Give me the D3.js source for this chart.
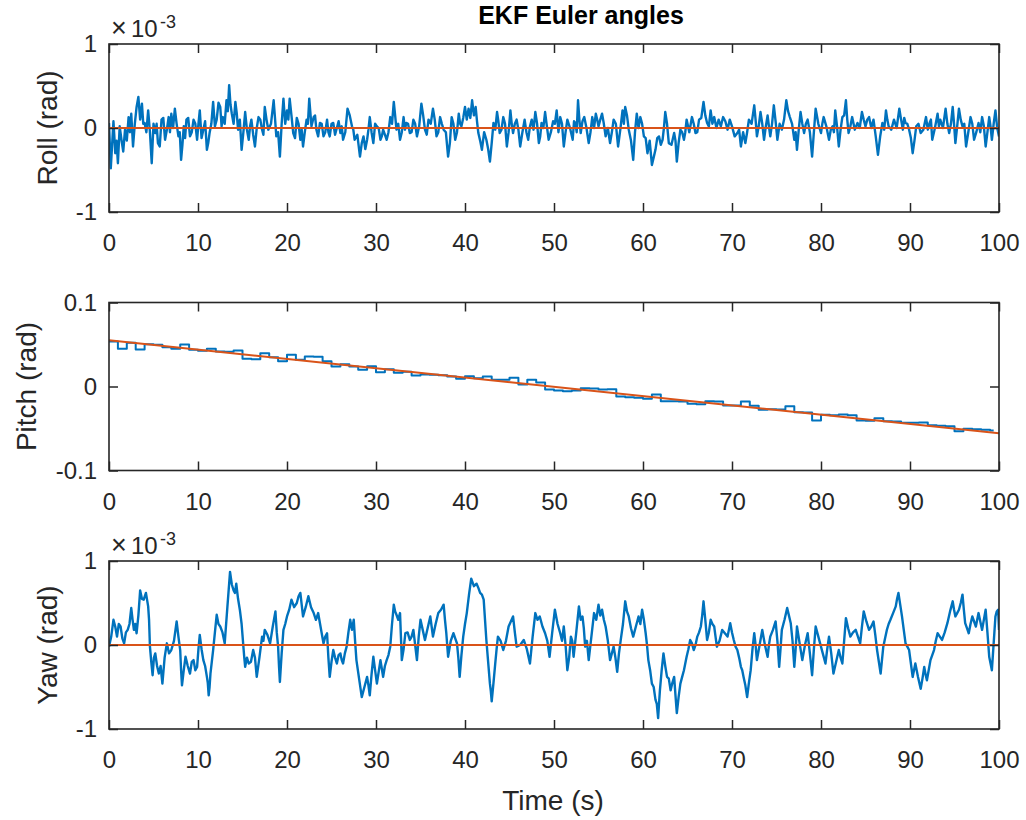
<!DOCTYPE html>
<html>
<head>
<meta charset="utf-8">
<script src="https://cdn.jsdelivr.net/npm/d3@7"></script>
<style>
  html, body { margin: 0; padding: 0; background: #fff; }
  svg { display: block; font-family: "Liberation Sans", Arial, Helvetica, sans-serif; }
</style>
</head>
<body>
<script>
// ---------------- DATA ----------------
const timeTicks = [0, 10, 20, 30, 40, 50, 60, 70, 80, 90, 100];
const rollTicks = [-1, 0, 1];          // x 1e-3 rad
const pitchTicks = [-0.1, 0, 0.1];     // rad
const yawTicks = [-1, 0, 1];           // x 1e-3 rad

// Roll estimate, main excursions [time (s), value (x1e-3 rad)]
const rollEst = [[0,0.06],[0.2,-0.48],[0.5,0.08],[0.7,-0.30],[1.0,-0.42],[1.4,-0.14],[1.8,-0.02],[2.2,0.13],[2.5,0.17],[2.7,-0.22],[3.1,0.25],[3.3,0.37],[3.7,0.29],[4.0,0.06],[4.4,0.21],[4.8,-0.42],[5.2,-0.06],[5.5,-0.18],[5.9,0.10],[6.3,-0.14],[6.7,0.13],[7.0,0.17],[7.4,0.23],[7.8,-0.10],[8.1,-0.38],[8.4,0.02],[8.7,0.10],[9.1,-0.10],[9.5,0.10],[9.9,-0.14],[10.2,0.21],[10.6,-0.02],[11.0,-0.26],[11.3,-0.06],[11.7,0.31],[12.1,0.10],[12.5,0.25],[12.8,0.13],[13.2,0.33],[13.5,0.51],[13.8,0.17],[14.2,0.31],[14.5,-0.02],[14.9,-0.26],[15.3,0.19],[15.7,-0.14],[16.0,0.10],[16.4,-0.22],[16.8,0.13],[17.2,-0.02],[17.5,0.25],[17.9,-0.02],[18.5,0.33],[18.8,-0.10],[19.2,-0.34],[19.6,0.35],[20.0,0.21],[20.3,0.35],[20.7,-0.06],[21.1,0.12],[21.5,-0.14],[21.8,-0.22],[22.2,0.10],[22.5,0.35],[23.0,0.13],[23.3,-0.02],[23.7,0.06],[24.1,-0.10],[24.5,0.10],[24.8,-0.10],[25.2,0.06],[25.6,0.00],[26.0,-0.06],[26.3,-0.14],[26.8,0.23],[27.3,0.02],[27.6,-0.14],[28.2,-0.34],[28.6,-0.10],[29.0,-0.14],[29.3,0.13],[29.7,-0.18],[30.1,0.02],[30.5,-0.14],[30.8,-0.02],[31.2,-0.14],[31.6,0.13],[32.0,0.31],[32.3,-0.02],[32.7,-0.14],[33.1,0.13],[33.4,0.06],[33.8,-0.06],[34.2,0.10],[34.6,-0.10],[35.1,0.29],[35.5,-0.02],[35.9,0.10],[36.4,0.23],[36.8,-0.10],[37.2,0.13],[37.6,-0.02],[38.1,-0.34],[38.5,0.13],[38.9,-0.14],[39.3,0.17],[39.6,0.02],[40.0,0.25],[40.4,0.23],[40.8,0.33],[41.2,0.25],[41.5,-0.06],[41.9,-0.26],[42.4,-0.14],[42.8,-0.40],[43.2,0.06],[43.6,0.19],[43.9,-0.06],[44.3,0.13],[44.7,-0.22],[45.1,0.21],[45.4,-0.06],[45.8,0.10],[46.2,-0.22],[46.7,0.10],[47.1,-0.14],[47.5,0.10],[47.9,0.19],[48.3,-0.18],[48.6,0.06],[49.0,0.19],[49.4,-0.14],[49.9,0.08],[50.3,0.21],[50.7,0.13],[51.1,-0.22],[51.5,0.10],[52.1,-0.14],[52.4,0.06],[52.7,0.33],[53.0,-0.06],[53.4,0.13],[53.9,-0.18],[54.3,0.13],[54.7,0.17],[55.0,0.02],[55.4,0.17],[55.8,-0.10],[56.3,-0.18],[56.7,0.10],[57.2,-0.22],[57.7,0.21],[58.0,0.25],[58.4,-0.02],[58.9,-0.38],[59.3,0.17],[59.7,0.13],[60.1,-0.10],[60.5,-0.30],[61.0,-0.44],[61.4,-0.26],[61.8,-0.10],[62.2,-0.14],[62.5,0.19],[62.9,-0.18],[63.5,-0.06],[63.8,-0.40],[64.2,-0.02],[64.6,-0.14],[64.9,0.10],[65.5,0.13],[65.9,-0.06],[66.3,0.10],[66.8,0.31],[67.2,0.06],[67.6,0.21],[68.0,0.13],[68.5,0.10],[69.0,0.13],[69.5,-0.02],[70.0,0.02],[70.6,-0.06],[71.0,-0.22],[71.5,-0.18],[71.9,0.10],[72.5,0.27],[72.8,-0.10],[73.2,0.19],[73.6,-0.14],[74.0,0.15],[74.3,-0.10],[74.7,0.27],[75.1,-0.14],[75.6,-0.02],[76.1,0.33],[76.5,0.13],[77.0,-0.14],[77.3,-0.26],[77.7,0.19],[78.1,-0.06],[78.5,0.10],[79.0,-0.34],[79.4,0.23],[80.0,-0.06],[80.3,0.13],[80.9,-0.14],[81.3,0.02],[81.6,0.21],[82.0,-0.22],[82.4,0.13],[82.8,0.33],[83.1,-0.06],[83.5,0.13],[84.1,0.06],[84.6,0.19],[85.0,0.02],[85.4,0.13],[85.9,0.10],[86.4,-0.32],[86.9,0.06],[87.3,0.21],[87.6,0.02],[88.2,0.10],[88.8,0.23],[89.2,-0.02],[89.5,0.06],[89.9,-0.02],[90.3,-0.30],[90.7,0.02],[91.2,-0.06],[91.8,0.13],[92.2,0.06],[92.5,-0.14],[93.1,0.17],[93.4,0.10],[94.0,0.23],[94.4,-0.06],[94.8,0.25],[95.1,-0.18],[95.5,0.23],[95.9,0.02],[96.3,-0.22],[96.8,0.13],[97.2,-0.14],[97.7,0.06],[98.1,0.13],[98.5,-0.22],[98.9,0.13],[99.2,-0.14],[99.6,0.21],[100,-0.10]];
// Roll estimate, smaller in-between wiggles
const rollDetail = [[0.35,-0.20],[0.6,-0.10],[0.85,-0.15],[1.2,0.02],[1.6,-0.28],[2.0,-0.15],[2.35,-0.05],[2.9,0.05],[3.5,0.10],[3.85,0.05],[4.2,-0.05],[4.6,-0.05],[5.0,0.05],[5.35,0.05],[5.7,-0.22],[6.1,0.12],[6.5,-0.02],[6.85,-0.05],[7.2,0.00],[7.6,0.05],[7.95,-0.05],[8.25,-0.20],[8.55,-0.12],[8.9,0.12],[9.3,-0.05],[9.7,0.05],[10.05,0.05],[10.4,-0.12],[10.8,0.08],[11.15,-0.18],[11.5,0.05],[11.9,0.02],[12.3,0.30],[12.65,0.02],[13.0,0.05],[13.35,0.20],[13.65,0.28],[14.0,0.05],[14.35,0.18],[14.7,0.10],[15.1,-0.05],[15.5,-0.02],[15.85,0.02],[16.2,-0.08],[16.6,0.00],[17.0,0.10],[17.35,-0.08],[17.7,0.10],[18.2,0.05],[18.65,0.12],[19.0,-0.05],[19.4,0.05],[19.8,0.05],[20.15,0.10],[20.5,0.15],[20.9,-0.12],[21.3,0.05],[21.65,-0.02],[22.0,-0.05],[22.35,0.05],[22.75,0.02],[23.15,0.15],[23.5,-0.10],[23.9,0.05],[24.3,-0.05],[24.65,-0.05],[25.0,0.05],[25.4,-0.08],[25.8,0.08],[26.15,0.02],[26.55,-0.05],[27.05,0.15],[27.45,-0.02],[27.9,-0.08],[28.4,-0.18],[28.8,-0.25],[29.15,-0.02],[29.5,-0.05],[29.9,0.05],[30.3,0.00],[30.65,-0.10],[31.0,-0.08],[31.4,-0.05],[31.8,0.05],[32.15,0.15],[32.5,0.05],[32.9,-0.05],[33.25,-0.02],[33.6,0.05],[34.0,-0.05],[34.4,0.05],[34.85,0.02],[35.3,0.15],[35.7,-0.08],[36.15,0.05],[36.6,0.10],[37.0,-0.05],[37.4,0.05],[37.85,-0.05],[38.3,-0.18],[38.7,0.05],[39.1,-0.05],[39.45,0.05],[39.8,0.12],[40.2,0.10],[40.6,0.12],[41.0,0.15],[41.35,0.08],[41.7,-0.15],[42.15,-0.05],[42.6,-0.25],[43.0,-0.18],[43.4,-0.02],[43.75,0.08],[44.1,-0.02],[44.5,0.05],[44.9,-0.05],[45.25,0.05],[45.6,0.05],[46.0,-0.02],[46.45,-0.05],[46.9,-0.05],[47.3,0.02],[47.7,-0.02],[48.1,0.05],[48.45,-0.10],[48.8,0.00],[49.2,0.02],[49.65,-0.05],[50.1,0.05],[50.5,-0.05],[50.9,0.05],[51.3,-0.05],[51.8,0.00],[52.25,0.08],[52.55,-0.05],[52.85,0.10],[53.2,0.08],[53.65,0.00],[54.1,-0.05],[54.5,0.00],[54.85,0.10],[55.2,0.10],[55.6,0.05],[56.05,0.00],[56.5,-0.05],[56.95,0.05],[57.45,-0.02],[57.85,0.05],[58.2,0.15],[58.65,-0.15],[59.1,-0.05],[59.5,0.00],[59.9,0.05],[60.3,-0.12],[60.75,-0.15],[61.2,-0.35],[61.6,-0.12],[62.0,-0.20],[62.35,0.00],[62.7,0.05],[63.2,-0.20],[63.65,-0.15],[64.0,-0.18],[64.4,-0.05],[64.75,-0.05],[65.2,-0.05],[65.7,0.05],[66.1,-0.05],[66.55,0.12],[67.0,0.15],[67.4,0.02],[67.8,0.05],[68.25,0.00],[68.75,0.02],[69.25,0.08],[69.75,0.10],[70.3,-0.10],[70.8,-0.02],[71.25,-0.05],[71.7,-0.05],[72.2,0.05],[72.65,0.10],[73.0,0.02],[73.4,0.05],[73.8,0.02],[74.15,0.02],[74.5,0.05],[74.9,0.08],[75.35,0.05],[75.85,0.10],[76.3,0.20],[76.75,0.05],[77.15,-0.05],[77.5,-0.02],[77.9,0.05],[78.3,0.05],[78.75,-0.05],[79.2,-0.05],[79.7,0.05],[80.15,0.05],[80.6,0.02],[81.1,-0.02],[81.45,-0.05],[81.8,0.02],[82.2,-0.02],[82.6,0.15],[82.95,0.10],[83.3,0.02],[83.8,-0.02],[84.35,0.00],[84.8,0.10],[85.2,0.10],[85.65,0.00],[86.15,-0.10],[86.65,-0.10],[87.1,-0.02],[87.45,0.10],[87.9,-0.02],[88.5,0.00],[89.0,0.10],[89.35,0.12],[89.7,0.05],[90.1,-0.12],[90.5,-0.15],[90.95,0.05],[91.5,-0.02],[92.0,-0.02],[92.35,0.10],[92.8,0.00],[93.25,0.02],[93.7,0.00],[94.2,0.05],[94.6,0.05],[94.95,0.05],[95.3,0.02],[95.7,0.10],[96.1,0.05],[96.55,-0.05],[97.0,0.05],[97.45,-0.05],[97.9,-0.05],[98.3,0.02],[98.7,-0.05],[99.05,0.02],[99.4,0.05],[99.8,0.00]];
const rollRef = [[0,0],[100,0]];

// Pitch estimate (rad), held over each interval starting at pitchTime[i]
const pitchTime = [0,1,2,3,4,5,6,7,8,9,10,11,12,13,14,15,16,17,18,19,20,21,22,23,24,25,26,27,28,29,30,31,32,33,34,35,36,37,38,39,40,41,42,43,44,45,46,47,48,49,50,51,52,53,54,55,56,57,58,59,60,61,62,63,64,65,66,67,68,69,70,71,72,73,74,75,76,77,78,79,80,81,82,83,84,85,86,87,88,89,90,91,92,93,94,95,96,97,98,99,99.4];
const pitchEst = [0.0536,0.0448,0.0520,0.0440,0.0504,0.0496,0.0468,0.0448,0.0500,0.0437,0.0425,0.0448,0.0417,0.0413,0.0429,0.0329,0.0325,0.0397,0.0349,0.0302,0.0377,0.0317,0.0357,0.0353,0.0302,0.0238,0.0266,0.0238,0.0198,0.0242,0.0171,0.0206,0.0163,0.0175,0.0131,0.0143,0.0139,0.0135,0.0119,0.0091,0.0123,0.0099,0.0119,0.0079,0.0079,0.0103,0.0024,0.0079,0.0048,-0.0036,-0.0048,-0.0056,-0.0048,-0.0020,-0.0024,-0.0036,-0.0032,-0.0119,-0.0127,-0.0135,-0.0147,-0.0095,-0.0175,-0.0175,-0.0179,-0.0206,-0.0210,-0.0175,-0.0179,-0.0226,-0.0226,-0.0179,-0.0230,-0.0278,-0.0270,-0.0274,-0.0234,-0.0306,-0.0310,-0.0405,-0.0337,-0.0341,-0.0333,-0.0341,-0.0405,-0.0409,-0.0377,-0.0413,-0.0417,-0.0433,-0.0433,-0.0429,-0.0460,-0.0468,-0.0472,-0.0532,-0.0504,-0.0508,-0.0516,-0.0524,-0.0524];
const pitchRef = [[0,0.0550],[100,-0.0556]];

// Yaw estimate, main excursions [time (s), value (x1e-3 rad)]
const yawEst = [[0,-0.02],[0.5,0.30],[0.9,0.10],[1.3,0.22],[1.7,0.02],[2.1,0.18],[2.5,0.44],[2.8,0.18],[3.1,0.14],[3.5,0.65],[3.9,0.54],[4.4,0.46],[4.6,-0.02],[4.9,-0.36],[5.2,-0.10],[5.6,-0.34],[6.0,-0.46],[6.5,0.02],[7.0,-0.06],[7.6,0.28],[8.0,-0.06],[8.2,-0.48],[8.6,-0.14],[9.1,-0.34],[9.5,-0.18],[9.9,-0.26],[10.2,0.12],[10.6,-0.18],[11.0,-0.38],[11.2,-0.60],[11.4,-0.34],[11.7,-0.06],[12.1,0.36],[12.5,0.22],[13.0,0.02],[13.6,0.87],[14.0,0.65],[14.3,0.73],[14.7,0.42],[15.1,-0.02],[15.3,-0.26],[15.7,-0.22],[16.2,-0.06],[16.6,-0.38],[17.2,0.10],[17.5,0.18],[18.1,0.02],[18.7,0.40],[19.0,-0.02],[19.2,-0.44],[19.6,0.18],[20.0,0.34],[20.5,0.54],[21.1,0.50],[21.5,0.62],[21.8,0.34],[22.4,0.58],[23.0,0.38],[23.5,0.38],[24.1,0.02],[24.5,0.14],[24.8,-0.38],[25.2,-0.06],[25.6,-0.22],[26.0,-0.10],[26.3,-0.22],[26.7,-0.02],[27.1,0.30],[27.5,0.30],[27.8,-0.18],[28.4,-0.62],[29.0,-0.38],[29.3,-0.60],[29.7,-0.14],[30.1,-0.46],[30.5,-0.18],[30.8,-0.38],[31.2,-0.18],[31.6,-0.02],[32.0,0.48],[32.3,0.36],[32.7,0.38],[32.9,-0.18],[33.3,0.14],[33.8,0.06],[34.2,0.18],[34.6,-0.18],[35.0,0.30],[35.5,0.06],[36.1,0.34],[36.4,0.10],[37.0,0.38],[37.6,0.48],[37.9,0.14],[38.1,-0.14],[38.7,0.14],[39.1,0.02],[39.4,-0.38],[39.8,0.10],[40.2,0.38],[40.7,0.79],[41.3,0.73],[41.7,0.62],[42.1,0.54],[42.4,0.06],[42.8,-0.46],[43.0,-0.67],[43.4,-0.22],[43.7,0.10],[44.3,-0.06],[44.9,0.22],[45.4,0.34],[45.8,-0.02],[46.6,0.06],[47.3,-0.22],[47.9,0.38],[48.4,0.34],[49.0,0.14],[49.5,-0.14],[50.1,0.42],[50.7,0.14],[51.1,0.22],[51.5,-0.30],[51.9,0.10],[52.2,-0.14],[52.8,0.46],[53.2,0.34],[53.5,-0.02],[53.9,-0.18],[54.5,0.38],[55.0,0.48],[55.4,0.42],[55.8,0.22],[56.3,-0.18],[56.7,-0.02],[57.1,-0.32],[57.5,0.06],[58.0,0.52],[58.4,0.34],[58.9,0.10],[59.5,0.34],[59.9,0.42],[60.3,0.14],[60.6,-0.18],[61.0,-0.46],[61.4,-0.65],[61.7,-0.87],[61.9,-0.54],[62.3,-0.10],[62.7,-0.38],[63.1,-0.54],[63.5,-0.38],[63.8,-0.81],[64.2,-0.46],[64.6,-0.30],[64.9,-0.14],[65.3,0.06],[65.7,-0.06],[66.1,0.10],[66.5,0.22],[66.8,0.52],[67.2,0.06],[67.6,0.30],[68.0,0.22],[68.3,-0.02],[68.9,0.18],[69.5,0.10],[69.8,0.26],[70.2,0.06],[70.6,-0.06],[71.0,-0.26],[71.3,-0.38],[71.7,-0.62],[72.1,-0.30],[72.5,0.14],[72.8,-0.18],[73.4,0.18],[74.0,-0.14],[74.3,0.10],[74.9,0.28],[75.3,-0.26],[75.6,0.18],[76.2,0.44],[76.6,0.26],[77.0,-0.26],[77.3,0.22],[77.9,-0.18],[78.5,0.14],[79.0,-0.36],[79.4,0.22],[79.9,0.02],[80.5,-0.22],[80.9,0.10],[81.4,-0.34],[82.0,-0.06],[82.4,-0.22],[82.8,0.32],[83.3,0.10],[83.9,0.18],[84.4,0.02],[84.8,0.40],[85.4,0.18],[85.9,0.28],[86.3,-0.06],[86.7,-0.34],[87.0,-0.02],[87.4,0.18],[87.8,0.30],[88.4,0.46],[88.7,0.62],[89.1,0.34],[89.5,0.02],[89.9,-0.06],[90.3,-0.38],[90.6,-0.22],[91.2,-0.52],[91.6,-0.26],[91.9,-0.42],[92.3,-0.18],[92.7,-0.06],[93.1,0.14],[93.6,0.06],[94.2,0.26],[94.8,0.52],[95.1,0.34],[95.5,0.42],[95.9,0.60],[96.2,0.26],[96.6,0.14],[97.0,0.34],[97.4,0.22],[97.7,0.38],[98.1,0.18],[98.5,0.42],[98.9,-0.14],[99.2,-0.30],[99.6,0.34],[99.9,0.42],[100,0.18]];
// Yaw estimate, in-between wiggles
const yawDetail = [[0.25,0.10],[0.7,0.22],[1.1,0.25],[1.5,0.08],[1.9,0.15],[2.3,0.25],[2.65,0.30],[2.95,0.25],[3.3,0.35],[3.7,0.55],[4.15,0.62],[4.5,0.30],[4.75,-0.20],[5.05,-0.15],[5.4,-0.25],[5.8,-0.25],[6.25,-0.15],[6.75,-0.10],[7.3,0.05],[7.8,0.10],[8.1,-0.30],[8.4,-0.30],[8.85,-0.25],[9.3,-0.20],[9.7,-0.30],[10.05,-0.05],[10.4,-0.05],[10.8,-0.25],[11.1,-0.45],[11.3,-0.50],[11.55,-0.20],[11.9,0.15],[12.3,0.25],[12.75,0.15],[13.3,0.45],[13.8,0.72],[14.15,0.62],[14.5,0.55],[14.9,0.25],[15.2,-0.15],[15.5,-0.15],[15.95,-0.20],[16.4,-0.15],[16.9,-0.15],[17.35,0.05],[17.8,0.12],[18.4,0.22],[18.85,0.15],[19.1,-0.25],[19.4,-0.10],[19.8,0.25],[20.25,0.42],[20.8,0.45],[21.3,0.58],[21.65,0.48],[22.1,0.45],[22.7,0.45],[23.25,0.30],[23.8,0.20],[24.3,0.10],[24.65,-0.15],[25.0,-0.20],[25.4,-0.15],[25.8,-0.12],[26.15,-0.18],[26.5,-0.10],[26.9,0.15],[27.3,0.18],[27.65,0.05],[28.1,-0.40],[28.7,-0.50],[29.15,-0.48],[29.5,-0.35],[29.9,-0.30],[30.3,-0.32],[30.65,-0.28],[31.0,-0.25],[31.4,-0.12],[31.8,0.25],[32.15,0.40],[32.5,0.30],[32.8,0.10],[33.1,-0.05],[33.55,0.15],[34.0,0.10],[34.4,0.00],[34.8,0.10],[35.25,0.18],[35.8,0.20],[36.25,0.22],[36.7,0.25],[37.3,0.42],[37.75,0.30],[38.0,0.00],[38.4,0.05],[38.9,0.08],[39.25,-0.15],[39.6,-0.12],[40.0,0.25],[40.45,0.60],[41.0,0.70],[41.5,0.68],[41.9,0.60],[42.25,0.30],[42.6,-0.20],[42.9,-0.55],[43.2,-0.45],[43.55,-0.05],[44.0,0.05],[44.6,0.05],[45.15,0.28],[45.6,0.15],[46.2,0.00],[46.95,-0.05],[47.6,0.10],[48.15,0.30],[48.7,0.22],[49.25,0.05],[49.8,0.15],[50.4,0.25],[50.9,0.05],[51.3,0.00],[51.7,-0.15],[52.05,0.05],[52.5,0.15],[53.0,0.30],[53.35,0.20],[53.7,0.05],[54.2,0.10],[54.75,0.30],[55.2,0.35],[55.6,0.30],[56.05,0.05],[56.5,-0.10],[56.9,-0.15],[57.3,-0.10],[57.75,0.25],[58.2,0.40],[58.65,0.20],[59.2,0.22],[59.7,0.25],[60.1,0.30],[60.45,0.00],[60.8,-0.30],[61.2,-0.50],[61.55,-0.70],[61.8,-0.70],[62.1,-0.30],[62.5,-0.25],[62.9,-0.40],[63.3,-0.45],[63.65,-0.60],[64.0,-0.62],[64.4,-0.38],[64.75,-0.22],[65.1,-0.05],[65.5,0.02],[65.9,0.00],[66.3,0.15],[66.65,0.35],[67.0,0.30],[67.4,0.15],[67.8,0.25],[68.15,0.10],[68.6,0.05],[69.2,0.14],[69.65,0.18],[70.0,0.15],[70.4,-0.02],[70.8,-0.15],[71.15,-0.30],[71.5,-0.48],[71.9,-0.45],[72.3,-0.05],[72.65,0.00],[73.1,0.00],[73.7,0.00],[74.15,0.00],[74.6,0.18],[75.1,0.05],[75.45,-0.05],[75.9,0.30],[76.4,0.35],[76.8,0.05],[77.15,-0.05],[77.6,0.02],[78.2,0.00],[78.75,-0.10],[79.2,-0.05],[79.65,0.12],[80.2,-0.10],[80.7,-0.05],[81.15,-0.10],[81.7,-0.20],[82.2,-0.15],[82.6,0.05],[83.05,0.20],[83.6,0.15],[84.15,0.10],[84.6,0.22],[85.1,0.28],[85.65,0.22],[86.1,0.12],[86.5,-0.20],[86.85,-0.18],[87.2,0.08],[87.6,0.25],[88.1,0.38],[88.55,0.55],[88.9,0.48],[89.3,0.18],[89.7,-0.02],[90.1,-0.22],[90.45,-0.30],[90.9,-0.38],[91.4,-0.40],[91.75,-0.35],[92.1,-0.30],[92.5,-0.12],[92.9,0.05],[93.35,0.10],[93.9,0.15],[94.5,0.40],[94.95,0.42],[95.3,0.38],[95.7,0.50],[96.05,0.42],[96.4,0.20],[96.8,0.25],[97.2,0.28],[97.55,0.30],[97.9,0.28],[98.3,0.30],[98.7,0.15],[99.05,-0.22],[99.4,0.02],[99.75,0.40]];
const yawRef = [[0,0],[100,0]];

const titleText = "EKF Euler angles";
const xLabelText = "Time (s)";

// ---------------- DRAWING ----------------
const W = 1026, H = 820;
const AX = "#262626", BLUE = "#0072BD", RED = "#D95319";
const svg = d3.select("body").append("svg").attr("width", W).attr("height", H);

const x = d3.scaleLinear().domain([0, 100]).range([109, 999]);

const merge = (a, b) => a.concat(b).map(d => ({t: d[0], v: d[1]})).sort((p, q) => p.t - q.t);
const fmtTick = d => String(d);   // plain hyphen-minus as in the original

const panels = [
  { top: 44,    bottom: 212,   domain: [-1, 1],     ticks: rollTicks,  exp: true, lw: 2.4,
    label: "Roll (rad)",  labelX: 47, est: merge(rollEst, rollDetail), ref: rollRef, step: false },
  { top: 302.5, bottom: 470.5, domain: [-0.1, 0.1], ticks: pitchTicks, exp: false, lw: 2,
    label: "Pitch (rad)", labelX: 26, est: pitchTime.map((t, i) => ({t: t, v: pitchEst[i]})), ref: pitchRef, step: true },
  { top: 561,   bottom: 729,   domain: [-1, 1],     ticks: yawTicks,   exp: true, lw: 2.4,
    label: "Yaw (rad)",   labelX: 47, est: merge(yawEst, yawDetail), ref: yawRef, step: false }
];

const TICK_FONT = 24;

panels.forEach((p, i) => {
  const y = d3.scaleLinear().domain(p.domain).range([p.bottom, p.top]);
  const g = svg.append("g");

  const clipId = "clip" + i;
  svg.append("clipPath").attr("id", clipId).append("rect")
    .attr("x", x.range()[0]).attr("y", p.top)
    .attr("width", x.range()[1] - x.range()[0]).attr("height", p.bottom - p.top);
  const plot = g.append("g").attr("clip-path", `url(#${clipId})`);

  const lineEst = d3.line().x(d => x(d.t)).y(d => y(d.v))
    .curve(p.step ? d3.curveStepAfter : d3.curveLinear);
  plot.append("path").datum(p.est).attr("d", lineEst)
    .attr("fill", "none").attr("stroke", BLUE).attr("stroke-width", p.lw).attr("stroke-linejoin", "round");

  const lineRef = d3.line().x(d => x(d[0])).y(d => y(d[1]));
  plot.append("path").datum(p.ref).attr("d", lineRef)
    .attr("fill", "none").attr("stroke", RED).attr("stroke-width", 2);

  const xb = d3.axisBottom(x).tickValues(timeTicks).tickSizeInner(-9).tickSizeOuter(0).tickPadding(22);
  const xt = d3.axisTop(x).tickValues(timeTicks).tickSizeInner(-9).tickSizeOuter(0).tickFormat("");
  const yl = d3.axisLeft(y).tickValues(p.ticks).tickSizeInner(-9).tickSizeOuter(0).tickPadding(12).tickFormat(fmtTick);
  const yr = d3.axisRight(y).tickValues(p.ticks).tickSizeInner(-9).tickSizeOuter(0).tickFormat("");

  const gxb = g.append("g").attr("transform", `translate(0,${p.bottom})`).call(xb);
  const gxt = g.append("g").attr("transform", `translate(0,${p.top})`).call(xt);
  const gyl = g.append("g").attr("transform", `translate(${x.range()[0]},0)`).call(yl);
  const gyr = g.append("g").attr("transform", `translate(${x.range()[1]},0)`).call(yr);

  [gxb, gxt, gyl, gyr].forEach(a => {
    a.select(".domain").remove();
    a.selectAll(".tick line").attr("stroke", AX).attr("stroke-width", 1.5);
    a.selectAll(".tick text").attr("fill", AX).style("font-size", TICK_FONT + "px")
      .style("font-family", '"Liberation Sans", Arial, sans-serif');
  });

  g.append("rect").attr("x", x.range()[0]).attr("y", p.top)
    .attr("width", x.range()[1] - x.range()[0]).attr("height", p.bottom - p.top)
    .attr("fill", "none").attr("stroke", AX).attr("stroke-width", 1.6);

  g.append("text").attr("transform", `translate(${p.labelX},${(p.top + p.bottom) / 2}) rotate(-90)`)
    .attr("text-anchor", "middle").attr("dominant-baseline", "central")
    .attr("fill", AX).style("font-size", "28px").text(p.label);

  if (p.exp) {
    const t = g.append("text").attr("y", p.top - 7).attr("fill", AX).style("font-size", TICK_FONT + "px");
    t.append("tspan").attr("x", 111).style("font-size", "27px").text("\u00D7");
    t.append("tspan").attr("x", 131).text("10");
    t.append("tspan").attr("x", 160).attr("dy", -9).style("font-size", "18px").text("-3");
  }
});

svg.append("text").attr("x", 581).attr("y", 24).attr("text-anchor", "middle")
  .attr("fill", "#000").style("font-size", "25px").style("font-weight", "bold").text(titleText);

svg.append("text").attr("x", 553).attr("y", 810).attr("text-anchor", "middle")
  .attr("fill", AX).style("font-size", "28px").text(xLabelText);
</script>
</body>
</html>
